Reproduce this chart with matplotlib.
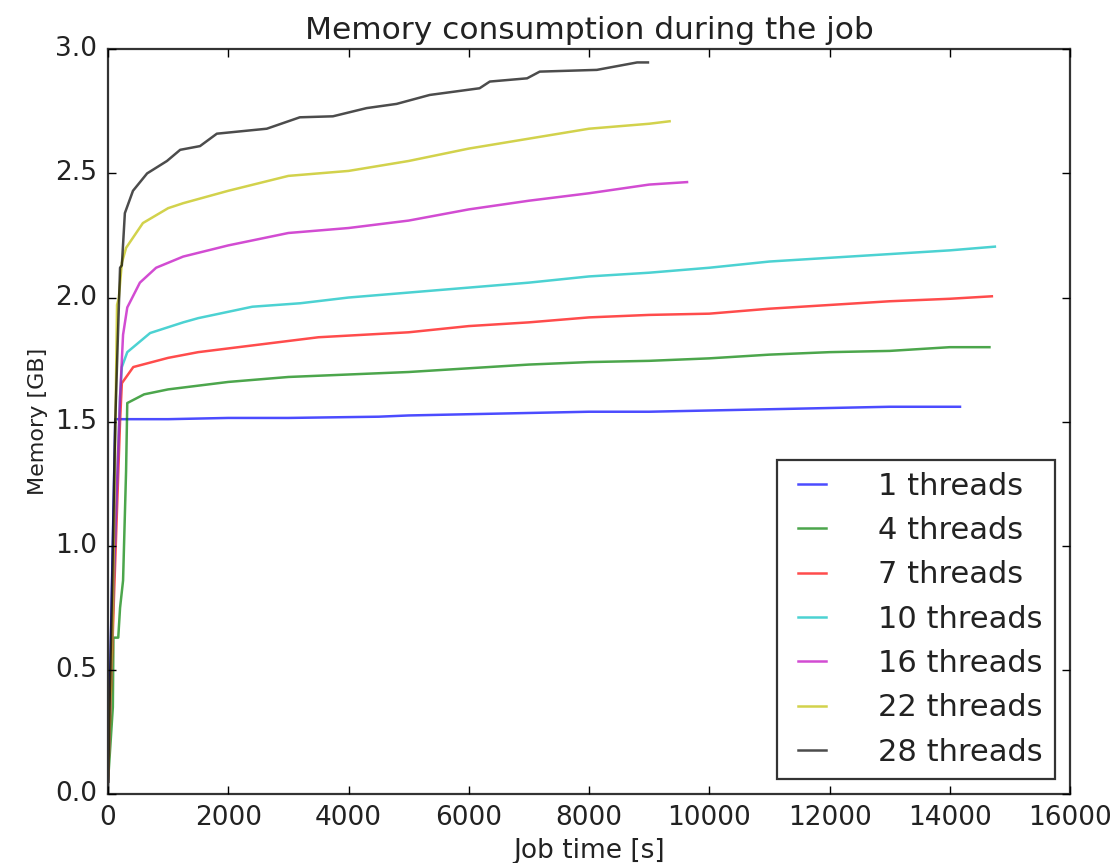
import matplotlib
matplotlib.use('Agg')
import matplotlib.pyplot as plt

labels = ['1 threads', '4 threads', '7 threads', '10 threads',
          '16 threads', '22 threads', '28 threads']
colors = ['b', 'g', 'r', 'c', 'm', 'y', 'k']

# job time [s] / memory [GB] per thread count
t1 = [0, 120, 1000, 2000, 3000, 4500, 5000, 6000, 7000, 8000, 9000,
      10000, 11000, 12000, 13000, 14170]
m1 = [0.05, 1.51, 1.51, 1.515, 1.515, 1.52, 1.525, 1.53, 1.535, 1.54,
      1.54, 1.545, 1.55, 1.555, 1.56, 1.56]

t4 = [0, 80, 90, 170, 200, 250, 300, 320, 600, 1000, 1500, 2000, 3000,
      4000, 5000, 6000, 7000, 8000, 9000, 10000, 11000, 12000, 13000,
      14000, 14660]
m4 = [0.05, 0.35, 0.63, 0.63, 0.75, 0.86, 1.3, 1.575, 1.61, 1.63, 1.645,
      1.66, 1.68, 1.69, 1.70, 1.715, 1.73, 1.74, 1.745, 1.755, 1.77, 1.78,
      1.785, 1.80, 1.80]

t7 = [0, 100, 200, 230, 420, 1000, 1500, 2500, 3500, 5000, 6000, 7000,
      8000, 9000, 10000, 11000, 12000, 13000, 14000, 14700]
m7 = [0.05, 0.8, 1.5, 1.655, 1.72, 1.757, 1.78, 1.81, 1.84, 1.86, 1.885,
      1.90, 1.92, 1.93, 1.935, 1.955, 1.97, 1.985, 1.995, 2.005]

t10 = [0, 100, 200, 230, 320, 700, 1250, 1500, 2400, 3200, 4000, 5000,
       6000, 7000, 8000, 9000, 10000, 11000, 12000, 13000, 14000, 14750]
m10 = [0.05, 0.9, 1.6, 1.72, 1.78, 1.857, 1.90, 1.917, 1.963, 1.977, 2.00,
       2.02, 2.04, 2.06, 2.085, 2.10, 2.12, 2.145, 2.16, 2.175, 2.19, 2.205]

t16 = [0, 100, 200, 250, 320, 530, 800, 1250, 2000, 3000, 4000, 5000,
       6000, 7000, 8000, 9000, 9630]
m16 = [0.05, 0.9, 1.6, 1.85, 1.96, 2.06, 2.12, 2.165, 2.21, 2.26, 2.28,
       2.31, 2.355, 2.39, 2.42, 2.455, 2.465]

t22 = [0, 80, 150, 180, 230, 300, 580, 1000, 1250, 2000, 3000, 4000,
       5000, 6000, 7000, 8000, 9000, 9340]
m22 = [0.05, 0.7, 1.97, 2.0, 2.14, 2.2, 2.30, 2.36, 2.38, 2.43, 2.49,
       2.51, 2.55, 2.60, 2.64, 2.68, 2.70, 2.71]

t28 = [0, 20, 60, 120, 200, 230, 280, 415, 650, 980, 1200, 1530, 1810,
       2640, 3190, 3740, 4300, 4800, 5350, 6180, 6350, 6970, 7180, 8130,
       8800, 8980]
m28 = [0.0, 0.3, 0.75, 1.5, 2.12, 2.13, 2.34, 2.43, 2.50, 2.55, 2.595,
       2.61, 2.66, 2.68, 2.726, 2.73, 2.763, 2.78, 2.816, 2.843, 2.87,
       2.883, 2.91, 2.917, 2.947, 2.947]

times = [t1, t4, t7, t10, t16, t22, t28]
mems = [m1, m4, m7, m10, m16, m22, m28]

plt.style.use('classic')
fig = plt.figure(figsize=(11.16, 8.63), dpi=100, facecolor='white')
ax = fig.add_axes([0.0968, 0.0799, 0.862, 0.863])

for t, m, c, lab in zip(times, mems, colors, labels):
    ax.plot(t, m, color=c, alpha=0.7, linewidth=1.8, label=lab)

ax.set_xlim(0, 16000)
ax.set_ylim(0, 3.0)
ax.tick_params(labelsize=19, length=6, width=1, pad=8, labelcolor='#222222')
ax.set_xlabel('Job time [s]', fontsize=19, color='#222222')
ax.set_ylabel('Memory [GB]', fontsize=16, color='#222222')
ax.set_title('Memory consumption during the job', fontsize=22.5, y=1.005,
             color='#222222')
for sp in ax.spines.values():
    sp.set_linewidth(1.6)
    sp.set_color('#333333')

leg = ax.legend(loc='lower right', fontsize=22, handlelength=1.5,
                handletextpad=1.4, labelspacing=0.5, borderpad=0.4,
                fancybox=False)
leg.get_frame().set_linewidth(1.6)
leg.get_frame().set_edgecolor('#333333')
for txt in leg.get_texts():
    txt.set_color('#222222')

fig.savefig('out.png', dpi=100, facecolor='white')
